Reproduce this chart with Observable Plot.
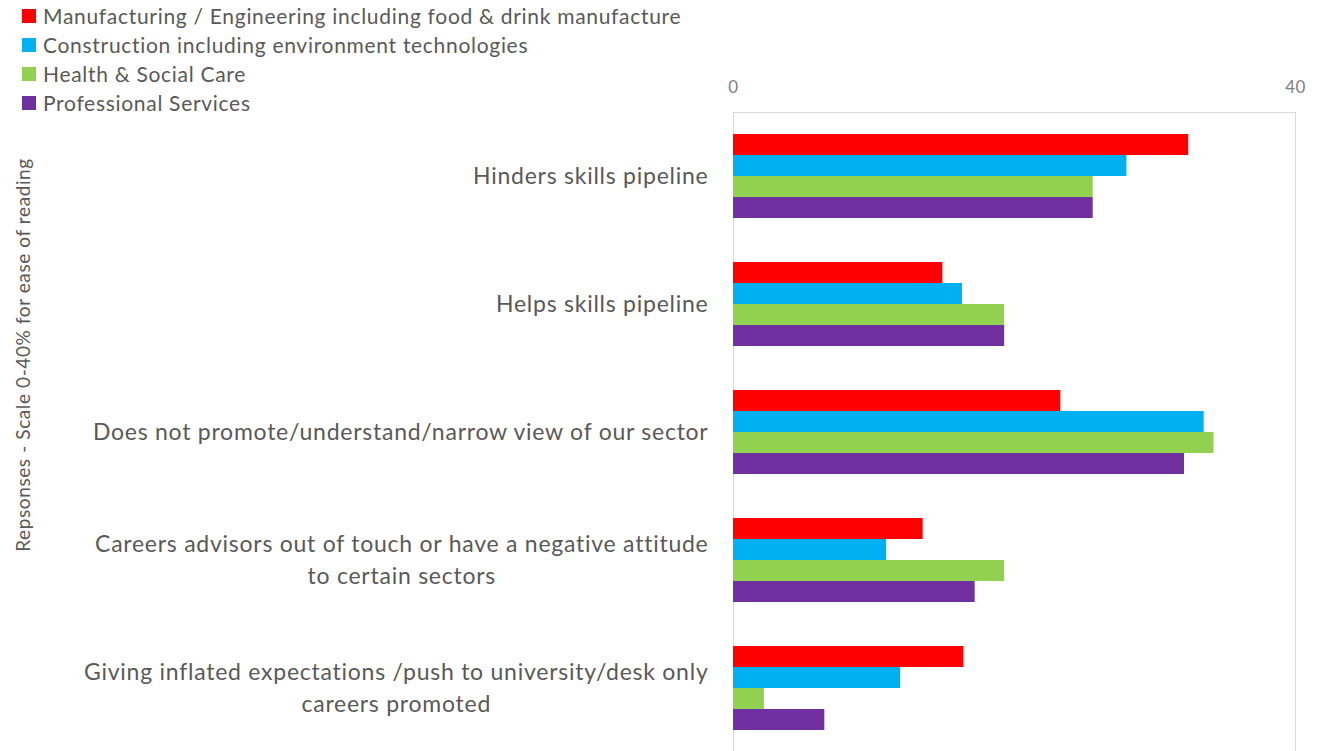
<!DOCTYPE html>
<html><head><meta charset="utf-8">
<script src="https://cdn.jsdelivr.net/npm/d3@7"></script>
<script src="https://cdn.jsdelivr.net/npm/@observablehq/plot@0.6"></script>
<style>
body{margin:0;overflow:hidden;background:#fff;font-family:Lato,sans-serif;}
#wrap{position:relative;width:1326px;height:751px;overflow:hidden;}
#chart{position:absolute;left:0;top:0;}
#legend{position:absolute;left:22px;top:1px;font-size:21px;letter-spacing:0.7px;color:#595959;}
.row{display:flex;align-items:center;height:29px;white-space:nowrap;}
.sw{width:14px;height:14px;margin-right:7px;flex:none;}
#ylab{position:absolute;left:22px;top:355px;transform:translate(-50%,-50%) rotate(-90deg);white-space:nowrap;font-size:19px;letter-spacing:0.6px;color:#595959;}
g[aria-label="y-axis tick label"]{letter-spacing:0.75px;}
g[aria-label="x-axis tick label"]{letter-spacing:0.5px;}
</style></head>
<body><div id="wrap"><div id="chart"></div><div id="legend"></div><div id="ylab">Repsonses - Scale 0-40% for ease of reading</div></div>
<script>
const categories = [
  "Hinders skills pipeline",
  "Helps skills pipeline",
  "Does not promote/understand/narrow view of our sector",
  "Careers advisors out of touch or have a negative attitude to certain sectors",
  "Giving inflated expectations /push to university/desk only careers promoted"
];
const categoryLabels = [
  "Hinders skills pipeline",
  "Helps skills pipeline",
  "Does not promote/understand/narrow view of our sector",
  "Careers advisors out of touch or have a negative attitude\nto certain sectors",
  "Giving inflated expectations /push to university/desk only\ncareers promoted"
];
const series = [
  "Manufacturing / Engineering including food & drink manufacture",
  "Construction including environment technologies",
  "Health & Social Care",
  "Professional Services"
];
const colors = ["#ff0000", "#00b0f0", "#92d050", "#7030a0"];
const manufacturing = [32.4, 14.9, 23.3, 13.5, 16.4];
const construction  = [28.0, 16.3, 33.5, 10.9, 11.9];
const health        = [25.6, 19.3, 34.2, 19.3, 2.2];
const professional  = [25.6, 19.3, 32.1, 17.2, 6.5];
const xTicks = [0, 40];

const seriesValues = [manufacturing, construction, health, professional];
const data = [];
categories.forEach((c, ci) => series.forEach((s, si) => data.push({category: c, series: s, value: seriesValues[si][ci]})));

// legend
const legend = document.getElementById("legend");
series.forEach((s, i) => {
  const row = document.createElement("div"); row.className = "row";
  const sw = document.createElement("div"); sw.className = "sw"; sw.style.background = colors[i];
  const t = document.createElement("span"); t.textContent = s;
  row.appendChild(sw); row.appendChild(t); legend.appendChild(row);
});

const width = 1326, height = 752, marginTop = 112, marginBottom = 0, marginLeft = 733, marginRight = 31;
const step = (height - marginTop - marginBottom) / categories.length;
const barH = 21;
const groupPad = (step - barH * series.length) / 2;
const labelOf = new Map(categories.map((c, i) => [c, categoryLabels[i]]));

const chart = Plot.plot({
  width, height, marginTop, marginBottom, marginLeft, marginRight,
  style: {fontFamily: "Lato, sans-serif", color: "#595959", background: "#fff"},
  x: {domain: [0, 40]},
  y: {domain: categories, padding: 0},
  marks: [
    Plot.frame({stroke: "#d9d9d9"}),
    ...series.map((s, i) => Plot.barX(data.filter(d => d.series === s), {
      x: "value", y: "category", fill: colors[i],
      insetTop: groupPad + i * barH,
      insetBottom: step - groupPad - (i + 1) * barH
    })),
    Plot.axisX({anchor: "top", ticks: xTicks, tickSize: 0, tickPadding: 20, fontSize: 17, fill: "#7f7f7f", label: null}),
    Plot.axisY({anchor: "left", tickSize: 0, tickPadding: 25, dy: -3, fontSize: 23, lineHeight: 1.4, fill: "#595959", label: null, tickFormat: d => labelOf.get(d)})
  ]
});
document.getElementById("chart").appendChild(chart);

// center multi-line category labels as a block
chart.querySelectorAll('g[aria-label="y-axis tick label"] text').forEach(t => {
  const spans = t.querySelectorAll("tspan");
  if (spans.length > 1) {
    let w = 0;
    spans.forEach(s => { w = Math.max(w, s.getComputedTextLength()); });
    t.setAttribute("text-anchor", "middle");
    spans.forEach(s => s.setAttribute("x", -w / 2));
  }
});
</script>
</body></html>
